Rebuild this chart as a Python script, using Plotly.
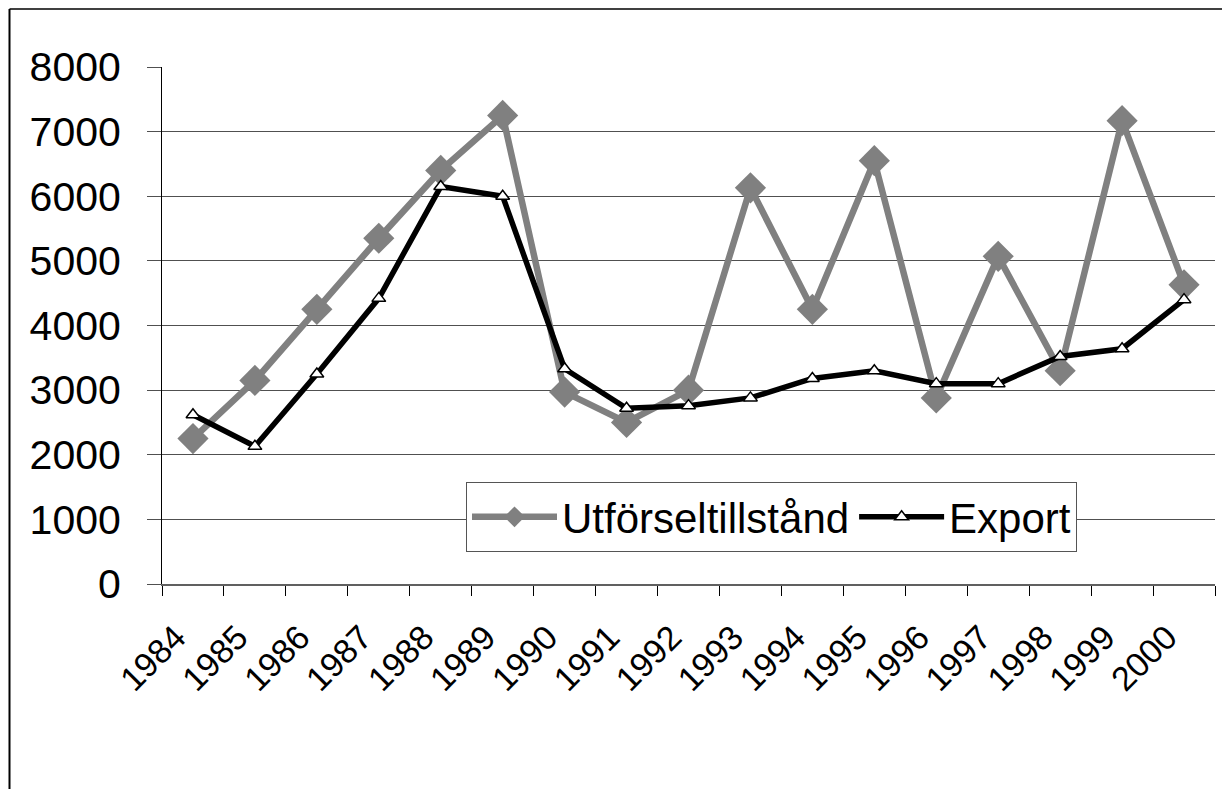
import plotly.graph_objects as go

years = [str(y) for y in range(1984, 2001)]
utforsel = [2250, 3150, 4250, 5350, 6400, 7250, 2970, 2500, 3000, 6130, 4250, 6550, 2880, 5070, 3300, 7170, 4630]
export = [2620, 2130, 3250, 4420, 6150, 6000, 3330, 2720, 2760, 2880, 3180, 3300, 3100, 3100, 3520, 3640, 4400]
y_ticks = [0, 1000, 2000, 3000, 4000, 5000, 6000, 7000, 8000]

OFF = 8  # page body margin
W, H = 1230 - OFF, 789 - OFF
L, R, T, B = 162 - OFF, 15, 67 - OFF, 205
pw, ph = W - L - R, H - T - B

def px_x(x):
    return (x - OFF - L) / pw

def px_y(y):
    return (H - B - (y - OFF)) / ph

FONT = "Liberation Sans, Arial, sans-serif"

fig = go.Figure()
fig.add_trace(go.Scatter(
    x=years, y=utforsel, name="Utförseltillstånd", mode="lines+markers",
    line=dict(color="#808080", width=6.5),
    marker=dict(symbol="diamond", size=24, color="#808080", line=dict(width=0)),
))
fig.add_trace(go.Scatter(
    x=years, y=export, name="Export", mode="lines+markers",
    line=dict(color="#000000", width=5.5),
    marker=dict(symbol="triangle-up", size=12, color="#ffffff", line=dict(color="#000000", width=1.5)),
))

fig.update_layout(
    width=W, height=H,
    margin=dict(l=L, r=R, t=T, b=B),
    paper_bgcolor="white", plot_bgcolor="white",
    font=dict(family=FONT, color="black"),
    showlegend=True,
    legend=dict(
        orientation="h", x=px_x(466), y=px_y(482), xanchor="left", yanchor="top",
        bgcolor="white", bordercolor="#555555", borderwidth=1,
        font=dict(size=42, family=FONT), itemwidth=85,
        itemsizing="trace", tracegroupgap=0,
    ),
    shapes=[
        dict(type="line", xref="paper", yref="paper", x0=px_x(9.5), x1=px_x(9.5),
             y0=px_y(9), y1=px_y(800), line=dict(color="black", width=2)),
        dict(type="line", xref="paper", yref="paper", x0=px_x(9.5), x1=px_x(1240),
             y0=px_y(9), y1=px_y(9), line=dict(color="black", width=1.5)),
    ],
)

fig.update_xaxes(
    type="category", tickson="boundaries",
    showgrid=False, showline=True, linecolor="#606060", linewidth=1.5,
    ticks="outside", ticklen=10, tickcolor="#000000", tickwidth=1,
    tickangle=-45, tickfont=dict(size=34, family=FONT, color="black"),
    ticklabelshift=-17, ticklabelstandoff=18,
    range=[-0.5, 16.5], zeroline=False,
)
fig.update_yaxes(
    range=[0, 8000], tickvals=y_ticks, ticktext=[str(v) for v in y_ticks],
    showgrid=True, gridcolor="#505050", gridwidth=1,
    showline=True, linecolor="black", linewidth=1,
    ticks="outside", ticklen=14, tickcolor="#505050", tickwidth=1,
    tickfont=dict(size=41, family=FONT, color="black"),
    ticklabelstandoff=18, zeroline=False,
)

fig.write_html("out.html")
